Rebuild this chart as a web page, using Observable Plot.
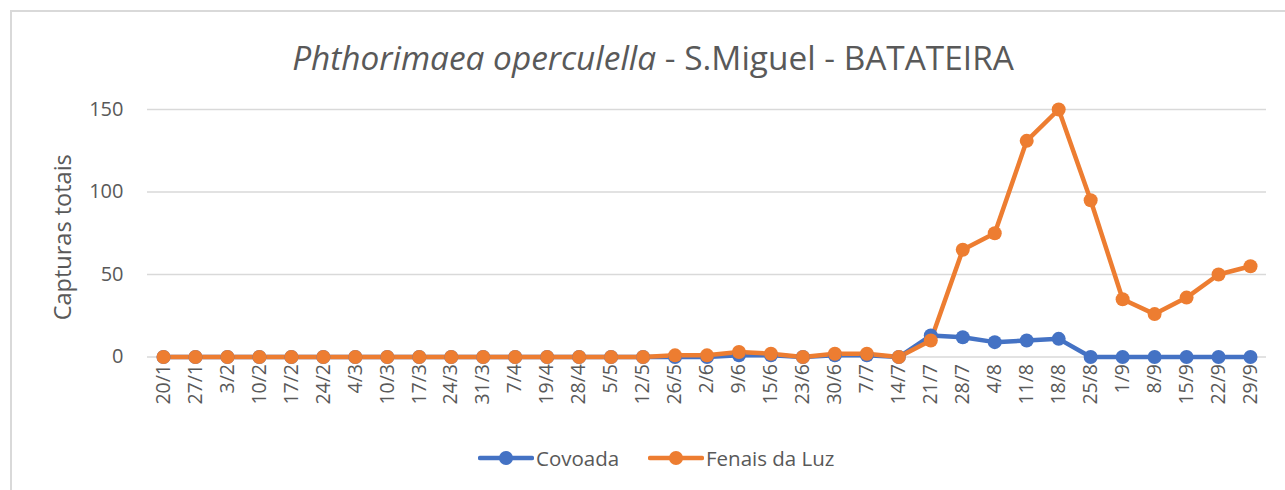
<!DOCTYPE html>
<html>
<head>
<meta charset="utf-8">
<script src="https://cdn.jsdelivr.net/npm/d3@7"></script>
<script src="https://cdn.jsdelivr.net/npm/@observablehq/plot@0.6"></script>
<style>
  html, body { margin: 0; padding: 0; background: #fff; }
  body { width: 1285px; height: 490px; overflow: hidden; position: relative; font-family: "Open Sans", sans-serif; color: #595959; }
  #frame { position: absolute; left: 10px; top: 10px; width: 1400px; height: 600px; border-left: 2px solid #d9d9d9; border-top: 2px solid #d9d9d9; }
  #title { position: absolute; left: 0; width: 1306px; top: 34px; line-height: 46px; text-align: center; font-size: 33.4px; color: #595959; white-space: nowrap; }
  #chart { position: absolute; left: 0; top: 0; }
  #legend { position: absolute; top: 444px; left: 0; width: 1285px; font-size: 20.5px; color: #595959; }
  .item { position: absolute; display: flex; align-items: center; white-space: nowrap; }
</style>
</head>
<body>
<div id="frame"></div>
<div id="title"><i>Phthorimaea operculella</i> - S.Miguel - BATATEIRA</div>
<div id="chart"></div>
<div id="legend"></div>
<script>
const dates = ["20/1","27/1","3/2","10/2","17/2","24/2","4/3","10/3","17/3","24/3","31/3","7/4","19/4","28/4","5/5","12/5","26/5","2/6","9/6","15/6","23/6","30/6","7/7","14/7","21/7","28/7","4/8","11/8","18/8","25/8","1/9","8/9","15/9","22/9","29/9"];
const covoada = [0,0,0,0,0,0,0,0,0,0,0,0,0,0,0,0,0,0,1,1,0,1,1,0,13,12,9,10,11,0,0,0,0,0,0];
const fenais = [0,0,0,0,0,0,0,0,0,0,0,0,0,0,0,0,1,1,3,2,0,2,2,0,10,65,75,131,150,95,35,26,36,50,55];
const seriesNames = ["Covoada", "Fenais da Luz"];
const seriesColors = ["#4472C4", "#ED7D31"];
const yTicks = [0, 50, 100, 150];

const rows = [];
[covoada, fenais].forEach((vals, s) => {
  vals.forEach((v, i) => rows.push({date: dates[i], value: v, series: seriesNames[s]}));
});

const plot = Plot.plot({
  width: 1285,
  height: 490,
  marginLeft: 147,
  marginRight: 19,
  marginTop: 109,
  marginBottom: 133.5,
  style: {fontFamily: "Open Sans, sans-serif", fontSize: "20px", color: "#595959", background: "transparent", overflow: "visible"},
  x: {type: "point", domain: dates, padding: 0.5, label: null},
  y: {domain: [0, 150], label: null},
  color: {domain: seriesNames, range: seriesColors},
  marks: [
    Plot.ruleY(yTicks, {stroke: "#d9d9d9", strokeWidth: 1.5}),
    Plot.axisY({ticks: yTicks, tickSize: 0, tickPadding: 24, fontSize: 20, fill: "#595959", label: null}),
    Plot.axisX({tickSize: 0, tickRotate: -90, tickPadding: 7, fontSize: 19.5, fill: "#595959", label: null}),
    Plot.text(["Capturas totais"], {frameAnchor: "left", textAnchor: "middle", dx: -84, dy: 4, rotate: -90, fontSize: 23.5, fill: "#595959"}),
    Plot.lineY(rows, {x: "date", y: "value", stroke: "series", strokeWidth: 4.5, z: "series"}),
    Plot.dot(rows, {x: "date", y: "value", fill: "series", r: 7})
  ]
});
document.getElementById("chart").appendChild(plot);

const legend = document.getElementById("legend");
const lefts = [478, 648];
seriesNames.forEach((name, i) => {
  const it = document.createElement("div");
  it.className = "item";
  it.style.left = lefts[i] + "px";
  it.innerHTML = `<svg width="56" height="28"><line x1="2" y1="14" x2="54" y2="14" stroke="${seriesColors[i]}" stroke-width="4.5" stroke-linecap="round"/><circle cx="28" cy="14" r="7" fill="${seriesColors[i]}"/></svg><span style="margin-left:2px">${name}</span>`;
  legend.appendChild(it);
});
</script>
</body>
</html>
